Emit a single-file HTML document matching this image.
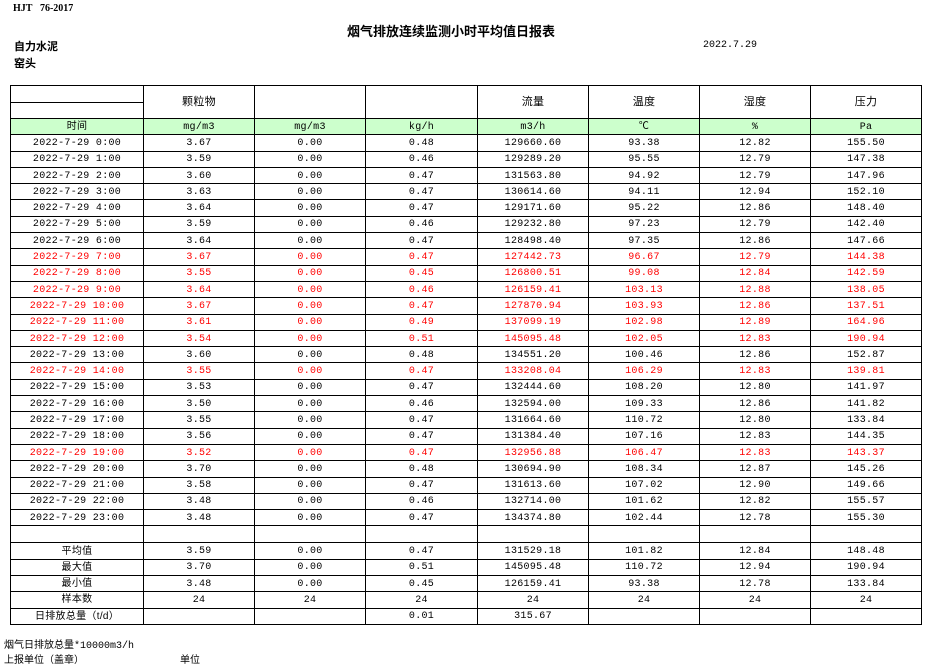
<!DOCTYPE html>
<html><head><meta charset="utf-8"><style>
body{margin:0;width:935px;height:666px;background:#fff;position:relative;overflow:hidden;font-family:"Liberation Mono","Noto Sans CJK SC",monospace;font-size:10px;color:#000}
.a{position:absolute;white-space:nowrap}
table{position:absolute;left:10px;top:85px;border-collapse:collapse;table-layout:fixed;width:912px}
td{border:1px solid #000;text-align:center;vertical-align:middle;padding:1px 0 0 0;height:14.3px;line-height:13px;overflow:hidden;white-space:nowrap;font-size:10px;letter-spacing:0.3px}
td.c{font-family:"Liberation Sans","Noto Sans CJK SC",sans-serif;font-size:10px;line-height:12px}
tr.g td{background:#ccffcc}
tr.r td{color:#f00}
td.h{height:31px;font-size:11px;font-family:"Liberation Sans","Noto Sans CJK SC",sans-serif}
</style></head><body>
<div class="a" style="left:13px;top:3px;font-weight:bold;font-family:'Liberation Serif',serif;font-size:10px">HJT&nbsp;&nbsp;&nbsp;76-2017</div>
<div class="a" style="left:347px;top:21px;font-weight:bold;font-size:13px;font-family:'Noto Sans CJK SC',sans-serif">烟气排放连续监测小时平均值日报表</div>
<div class="a" style="left:14px;top:38px;font-weight:bold;font-size:11px;font-family:'Noto Sans CJK SC',sans-serif">自力水泥</div>
<div class="a" style="left:14px;top:55px;font-weight:bold;font-size:11px;font-family:'Noto Sans CJK SC',sans-serif">窑头</div>
<div class="a" style="left:703px;top:40px;font-size:10px">2022.7.29</div>
<table>
<colgroup><col style="width:133px"><col style="width:111px"><col style="width:111px"><col style="width:112px"><col style="width:111px"><col style="width:111px"><col style="width:111px"><col style="width:111px"></colgroup>
<tr><td style="height:14px"></td><td class="h" rowspan="2">颗粒物</td><td class="h" rowspan="2"></td><td class="h" rowspan="2"></td><td class="h" rowspan="2">流量</td><td class="h" rowspan="2">温度</td><td class="h" rowspan="2">湿度</td><td class="h" rowspan="2">压力</td></tr>
<tr><td style="height:14px"></td></tr>
<tr class="g"><td class="c">时间</td><td>mg/m3</td><td>mg/m3</td><td>kg/h</td><td>m3/h</td><td>℃</td><td>%</td><td>Pa</td></tr>
<tr><td>2022-7-29 0:00</td><td>3.67</td><td>0.00</td><td>0.48</td><td>129660.60</td><td>93.38</td><td>12.82</td><td>155.50</td></tr>
<tr><td>2022-7-29 1:00</td><td>3.59</td><td>0.00</td><td>0.46</td><td>129289.20</td><td>95.55</td><td>12.79</td><td>147.38</td></tr>
<tr><td>2022-7-29 2:00</td><td>3.60</td><td>0.00</td><td>0.47</td><td>131563.80</td><td>94.92</td><td>12.79</td><td>147.96</td></tr>
<tr><td>2022-7-29 3:00</td><td>3.63</td><td>0.00</td><td>0.47</td><td>130614.60</td><td>94.11</td><td>12.94</td><td>152.10</td></tr>
<tr><td>2022-7-29 4:00</td><td>3.64</td><td>0.00</td><td>0.47</td><td>129171.60</td><td>95.22</td><td>12.86</td><td>148.40</td></tr>
<tr><td>2022-7-29 5:00</td><td>3.59</td><td>0.00</td><td>0.46</td><td>129232.80</td><td>97.23</td><td>12.79</td><td>142.40</td></tr>
<tr><td>2022-7-29 6:00</td><td>3.64</td><td>0.00</td><td>0.47</td><td>128498.40</td><td>97.35</td><td>12.86</td><td>147.66</td></tr>
<tr class="r"><td>2022-7-29 7:00</td><td>3.67</td><td>0.00</td><td>0.47</td><td>127442.73</td><td>96.67</td><td>12.79</td><td>144.38</td></tr>
<tr class="r"><td>2022-7-29 8:00</td><td>3.55</td><td>0.00</td><td>0.45</td><td>126800.51</td><td>99.08</td><td>12.84</td><td>142.59</td></tr>
<tr class="r"><td>2022-7-29 9:00</td><td>3.64</td><td>0.00</td><td>0.46</td><td>126159.41</td><td>103.13</td><td>12.88</td><td>138.05</td></tr>
<tr class="r"><td>2022-7-29 10:00</td><td>3.67</td><td>0.00</td><td>0.47</td><td>127870.94</td><td>103.93</td><td>12.86</td><td>137.51</td></tr>
<tr class="r"><td>2022-7-29 11:00</td><td>3.61</td><td>0.00</td><td>0.49</td><td>137099.19</td><td>102.98</td><td>12.89</td><td>164.96</td></tr>
<tr class="r"><td>2022-7-29 12:00</td><td>3.54</td><td>0.00</td><td>0.51</td><td>145095.48</td><td>102.05</td><td>12.83</td><td>190.94</td></tr>
<tr><td>2022-7-29 13:00</td><td>3.60</td><td>0.00</td><td>0.48</td><td>134551.20</td><td>100.46</td><td>12.86</td><td>152.87</td></tr>
<tr class="r"><td>2022-7-29 14:00</td><td>3.55</td><td>0.00</td><td>0.47</td><td>133208.04</td><td>106.29</td><td>12.83</td><td>139.81</td></tr>
<tr><td>2022-7-29 15:00</td><td>3.53</td><td>0.00</td><td>0.47</td><td>132444.60</td><td>108.20</td><td>12.80</td><td>141.97</td></tr>
<tr><td>2022-7-29 16:00</td><td>3.50</td><td>0.00</td><td>0.46</td><td>132594.00</td><td>109.33</td><td>12.86</td><td>141.82</td></tr>
<tr><td>2022-7-29 17:00</td><td>3.55</td><td>0.00</td><td>0.47</td><td>131664.60</td><td>110.72</td><td>12.80</td><td>133.84</td></tr>
<tr><td>2022-7-29 18:00</td><td>3.56</td><td>0.00</td><td>0.47</td><td>131384.40</td><td>107.16</td><td>12.83</td><td>144.35</td></tr>
<tr class="r"><td>2022-7-29 19:00</td><td>3.52</td><td>0.00</td><td>0.47</td><td>132956.88</td><td>106.47</td><td>12.83</td><td>143.37</td></tr>
<tr><td>2022-7-29 20:00</td><td>3.70</td><td>0.00</td><td>0.48</td><td>130694.90</td><td>108.34</td><td>12.87</td><td>145.26</td></tr>
<tr><td>2022-7-29 21:00</td><td>3.58</td><td>0.00</td><td>0.47</td><td>131613.60</td><td>107.02</td><td>12.90</td><td>149.66</td></tr>
<tr><td>2022-7-29 22:00</td><td>3.48</td><td>0.00</td><td>0.46</td><td>132714.00</td><td>101.62</td><td>12.82</td><td>155.57</td></tr>
<tr><td>2022-7-29 23:00</td><td>3.48</td><td>0.00</td><td>0.47</td><td>134374.80</td><td>102.44</td><td>12.78</td><td>155.30</td></tr>
<tr><td style="height:15px"></td><td></td><td></td><td></td><td></td><td></td><td></td><td></td></tr>
<tr><td class="c">平均值</td><td>3.59</td><td>0.00</td><td>0.47</td><td>131529.18</td><td>101.82</td><td>12.84</td><td>148.48</td></tr>
<tr><td class="c">最大值</td><td>3.70</td><td>0.00</td><td>0.51</td><td>145095.48</td><td>110.72</td><td>12.94</td><td>190.94</td></tr>
<tr><td class="c">最小值</td><td>3.48</td><td>0.00</td><td>0.45</td><td>126159.41</td><td>93.38</td><td>12.78</td><td>133.84</td></tr>
<tr><td class="c">样本数</td><td>24</td><td>24</td><td>24</td><td>24</td><td>24</td><td>24</td><td>24</td></tr>
<tr><td class="c">日排放总量（t/d）</td><td></td><td></td><td>0.01</td><td>315.67</td><td></td><td></td><td></td></tr>
</table>
<div class="a" style="left:4px;top:636px">烟气日排放总量*10000m3/h</div>
<div class="a" style="left:4px;top:651px">上报单位（盖章）</div>
<div class="a" style="left:180px;top:651px">单位</div>
</body></html>
